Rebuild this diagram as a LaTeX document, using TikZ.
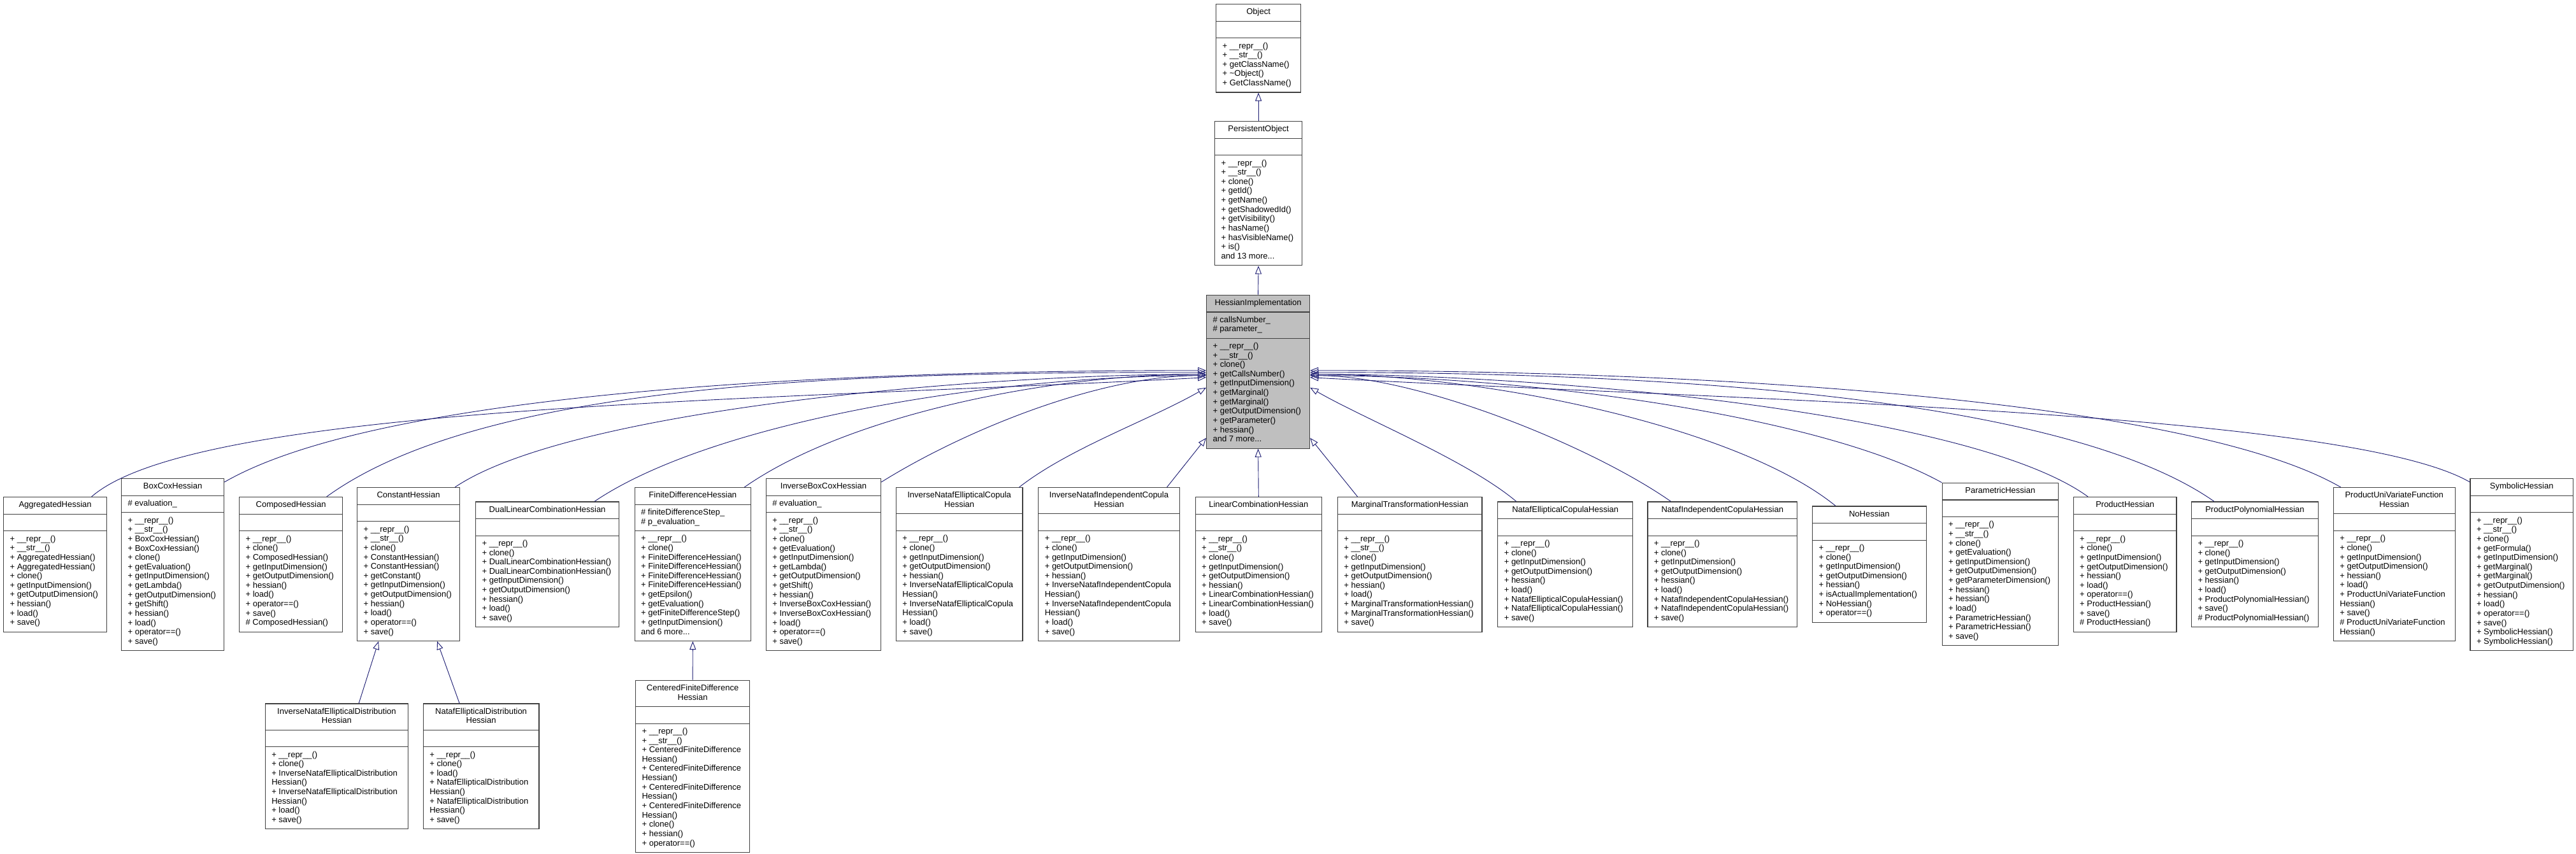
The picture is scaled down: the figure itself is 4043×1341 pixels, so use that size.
\documentclass[tikz,border=0pt]{standalone}
\usepackage{fontspec}
\setmainfont{Liberation Sans}
\usetikzlibrary{shapes.multipart,arrows.meta}
\definecolor{edgeblue}{RGB}{25,25,112}
\definecolor{boxline}{RGB}{64,64,64}
\definecolor{hifill}{RGB}{191,191,191}
\newcommand{\hfont}{\fontsize{13}{14.63}\selectfont}
\newcommand{\htitle}[1]{{\hfont\begin{tabular}{@{}c@{}}#1\end{tabular}}}
\newcommand{\hrows}[1]{{\hfont\begin{tabular}{@{}l@{}}#1\end{tabular}}}
\newcommand{\hnone}{{\hfont\strut}}

\begin{document}
\begin{tikzpicture}[x=1pt,y=1pt]
    \tikzstyle{hclass}=[rectangle split,rectangle split parts=3,draw=boxline,line width=1.2pt,fill=white,anchor=north west,minimum width=#1pt,inner xsep=10pt,inner ysep=5.4pt,rectangle split part align={center,left,left},font=\hfont]
    \tikzstyle{inh}=[draw=edgeblue,line width=0.9pt,-{Triangle[open,length=13pt,width=10pt]}]
    \useasboundingbox (0,0) rectangle (4043,-1341);

    % base classes
    \node[hclass=133] (obj) at (1908,-6) {\htitle{Object}\nodepart{second}\hnone\nodepart{third}\hrows{+ \_\_repr\_\_()\\+ \_\_str\_\_()\\+ getClassName()\\+ \textasciitilde Object()\\+ GetClassName()}};
    \node[hclass=137] (pobj) at (1906,-190) {\htitle{PersistentObject}\nodepart{second}\hnone\nodepart{third}\hrows{+ \_\_repr\_\_()\\+ \_\_str\_\_()\\+ clone()\\+ getId()\\+ getName()\\+ getShadowedId()\\+ getVisibility()\\+ hasName()\\+ hasVisibleName()\\+ is()\\and 13 more...}};
    \node[hclass=162,fill=hifill] (hi) at (1893,-462.7) {\htitle{HessianImplementation}\nodepart{second}\hrows{\# callsNumber\_\\\# parameter\_}\nodepart{third}\hrows{+ \_\_repr\_\_()\\+ \_\_str\_\_()\\+ clone()\\+ getCallsNumber()\\+ getInputDimension()\\+ getMarginal()\\+ getMarginal()\\+ getOutputDimension()\\+ getParameter()\\+ hessian()\\and 7 more...}};

    % derived classes, left to right
    \node[hclass=162] (agg) at (5,-780) {\htitle{AggregatedHessian}\nodepart{second}\hnone\nodepart{third}\hrows{+ \_\_repr\_\_()\\+ \_\_str\_\_()\\+ AggregatedHessian()\\+ AggregatedHessian()\\+ clone()\\+ getInputDimension()\\+ getOutputDimension()\\+ hessian()\\+ load()\\+ save()}};
    \node[hclass=161] (boxcox) at (190,-751) {\htitle{BoxCoxHessian}\nodepart{second}\hrows{\# evaluation\_}\nodepart{third}\hrows{+ \_\_repr\_\_()\\+ \_\_str\_\_()\\+ BoxCoxHessian()\\+ BoxCoxHessian()\\+ clone()\\+ getEvaluation()\\+ getInputDimension()\\+ getLambda()\\+ getOutputDimension()\\+ getShift()\\+ hessian()\\+ load()\\+ operator==()\\+ save()}};
    \node[hclass=162] (comp) at (375,-780) {\htitle{ComposedHessian}\nodepart{second}\hnone\nodepart{third}\hrows{+ \_\_repr\_\_()\\+ clone()\\+ ComposedHessian()\\+ getInputDimension()\\+ getOutputDimension()\\+ hessian()\\+ load()\\+ operator==()\\+ save()\\\# ComposedHessian()}};
    \node[hclass=161] (const) at (560,-765) {\htitle{ConstantHessian}\nodepart{second}\hnone\nodepart{third}\hrows{+ \_\_repr\_\_()\\+ \_\_str\_\_()\\+ clone()\\+ ConstantHessian()\\+ ConstantHessian()\\+ getConstant()\\+ getInputDimension()\\+ getOutputDimension()\\+ hessian()\\+ load()\\+ operator==()\\+ save()}};
    \node[hclass=225] (dlc) at (746,-787.3) {\htitle{DualLinearCombinationHessian}\nodepart{second}\hnone\nodepart{third}\hrows{+ \_\_repr\_\_()\\+ clone()\\+ DualLinearCombinationHessian()\\+ DualLinearCombinationHessian()\\+ getInputDimension()\\+ getOutputDimension()\\+ hessian()\\+ load()\\+ save()}};
    \node[hclass=182.5] (fd) at (995.5,-765) {\htitle{FiniteDifferenceHessian}\nodepart{second}\hrows{\# finiteDifferenceStep\_\\\# p\_evaluation\_}\nodepart{third}\hrows{+ \_\_repr\_\_()\\+ clone()\\+ FiniteDifferenceHessian()\\+ FiniteDifferenceHessian()\\+ FiniteDifferenceHessian()\\+ FiniteDifferenceHessian()\\+ getEpsilon()\\+ getEvaluation()\\+ getFiniteDifferenceStep()\\+ getInputDimension()\\and 6 more...}};
    \node[hclass=180.3] (ibc) at (1201.7,-751) {\htitle{InverseBoxCoxHessian}\nodepart{second}\hrows{\# evaluation\_}\nodepart{third}\hrows{+ \_\_repr\_\_()\\+ \_\_str\_\_()\\+ clone()\\+ getEvaluation()\\+ getInputDimension()\\+ getLambda()\\+ getOutputDimension()\\+ getShift()\\+ hessian()\\+ InverseBoxCoxHessian()\\+ InverseBoxCoxHessian()\\+ load()\\+ operator==()\\+ save()}};
    \node[hclass=198.5] (inec) at (1405.8,-765) {\htitle{InverseNatafEllipticalCopula\\Hessian}\nodepart{second}\hnone\nodepart{third}\hrows{+ \_\_repr\_\_()\\+ clone()\\+ getInputDimension()\\+ getOutputDimension()\\+ hessian()\\+ InverseNatafEllipticalCopula\\Hessian()\\+ InverseNatafEllipticalCopula\\Hessian()\\+ load()\\+ save()}};
    \node[hclass=221.4] (inic) at (1629.2,-765) {\htitle{InverseNatafIndependentCopula\\Hessian}\nodepart{second}\hnone\nodepart{third}\hrows{+ \_\_repr\_\_()\\+ clone()\\+ getInputDimension()\\+ getOutputDimension()\\+ hessian()\\+ InverseNatafIndependentCopula\\Hessian()\\+ InverseNatafIndependentCopula\\Hessian()\\+ load()\\+ save()}};
    \node[hclass=198.4] (lc) at (1875.5,-780) {\htitle{LinearCombinationHessian}\nodepart{second}\hnone\nodepart{third}\hrows{+ \_\_repr\_\_()\\+ \_\_str\_\_()\\+ clone()\\+ getInputDimension()\\+ getOutputDimension()\\+ hessian()\\+ LinearCombinationHessian()\\+ LinearCombinationHessian()\\+ load()\\+ save()}};
    \node[hclass=226.5] (mt) at (2098.8,-780) {\htitle{MarginalTransformationHessian}\nodepart{second}\hnone\nodepart{third}\hrows{+ \_\_repr\_\_()\\+ \_\_str\_\_()\\+ clone()\\+ getInputDimension()\\+ getOutputDimension()\\+ hessian()\\+ load()\\+ MarginalTransformationHessian()\\+ MarginalTransformationHessian()\\+ save()}};
    \node[hclass=211.8] (nec) at (2350.2,-787.3) {\htitle{NatafEllipticalCopulaHessian}\nodepart{second}\hnone\nodepart{third}\hrows{+ \_\_repr\_\_()\\+ clone()\\+ getInputDimension()\\+ getOutputDimension()\\+ hessian()\\+ load()\\+ NatafEllipticalCopulaHessian()\\+ NatafEllipticalCopulaHessian()\\+ save()}};
    \node[hclass=234.7] (nic) at (2585.3,-787.3) {\htitle{NatafIndependentCopulaHessian}\nodepart{second}\hnone\nodepart{third}\hrows{+ \_\_repr\_\_()\\+ clone()\\+ getInputDimension()\\+ getOutputDimension()\\+ hessian()\\+ load()\\+ NatafIndependentCopulaHessian()\\+ NatafIndependentCopulaHessian()\\+ save()}};
    \node[hclass=178.5] (noh) at (2844,-794.3) {\htitle{NoHessian}\nodepart{second}\hnone\nodepart{third}\hrows{+ \_\_repr\_\_()\\+ clone()\\+ getInputDimension()\\+ getOutputDimension()\\+ hessian()\\+ isActualImplementation()\\+ NoHessian()\\+ operator==()}};
    \node[hclass=182.5] (par) at (3047.5,-757.7) {\htitle{ParametricHessian}\nodepart{second}\hnone\nodepart{third}\hrows{+ \_\_repr\_\_()\\+ \_\_str\_\_()\\+ clone()\\+ getEvaluation()\\+ getInputDimension()\\+ getOutputDimension()\\+ getParameterDimension()\\+ hessian()\\+ hessian()\\+ load()\\+ ParametricHessian()\\+ ParametricHessian()\\+ save()}};
    \node[hclass=161.8] (prod) at (3253.6,-780) {\htitle{ProductHessian}\nodepart{second}\hnone\nodepart{third}\hrows{+ \_\_repr\_\_()\\+ clone()\\+ getInputDimension()\\+ getOutputDimension()\\+ hessian()\\+ load()\\+ operator==()\\+ ProductHessian()\\+ save()\\\# ProductHessian()}};
    \node[hclass=198.9] (ppoly) at (3438.9,-787.3) {\htitle{ProductPolynomialHessian}\nodepart{second}\hnone\nodepart{third}\hrows{+ \_\_repr\_\_()\\+ clone()\\+ getInputDimension()\\+ getOutputDimension()\\+ hessian()\\+ load()\\+ ProductPolynomialHessian()\\+ save()\\\# ProductPolynomialHessian()}};
    \node[hclass=190.8] (puvf) at (3661.7,-765) {\htitle{ProductUniVariateFunction\\Hessian}\nodepart{second}\hnone\nodepart{third}\hrows{+ \_\_repr\_\_()\\+ clone()\\+ getInputDimension()\\+ getOutputDimension()\\+ hessian()\\+ load()\\+ ProductUniVariateFunction\\Hessian()\\+ save()\\\# ProductUniVariateFunction\\Hessian()}};
    \node[hclass=161.3] (sym) at (3876.4,-751) {\htitle{SymbolicHessian}\nodepart{second}\hnone\nodepart{third}\hrows{+ \_\_repr\_\_()\\+ \_\_str\_\_()\\+ clone()\\+ getFormula()\\+ getInputDimension()\\+ getMarginal()\\+ getMarginal()\\+ getOutputDimension()\\+ hessian()\\+ load()\\+ operator==()\\+ save()\\+ SymbolicHessian()\\+ SymbolicHessian()}};

    % third level
    \node[hclass=224.3] (inedh) at (415.7,-1104.3) {\htitle{InverseNatafEllipticalDistribution\\Hessian}\nodepart{second}\hnone\nodepart{third}\hrows{+ \_\_repr\_\_()\\+ clone()\\+ InverseNatafEllipticalDistribution\\Hessian()\\+ InverseNatafEllipticalDistribution\\Hessian()\\+ load()\\+ save()}};
    \node[hclass=181.6] (nedh) at (663.7,-1104.3) {\htitle{NatafEllipticalDistribution\\Hessian}\nodepart{second}\hnone\nodepart{third}\hrows{+ \_\_repr\_\_()\\+ clone()\\+ load()\\+ NatafEllipticalDistribution\\Hessian()\\+ NatafEllipticalDistribution\\Hessian()\\+ save()}};
    \node[hclass=179] (cfd) at (997,-1067.7) {\htitle{CenteredFiniteDifference\\Hessian}\nodepart{second}\hnone\nodepart{third}\hrows{+ \_\_repr\_\_()\\+ \_\_str\_\_()\\+ CenteredFiniteDifference\\Hessian()\\+ CenteredFiniteDifference\\Hessian()\\+ CenteredFiniteDifference\\Hessian()\\+ CenteredFiniteDifference\\Hessian()\\+ clone()\\+ hessian()\\+ operator==()}};

    % inheritance
    \draw[inh] (pobj.north) -- (obj.south);
    \draw[inh] (hi.north) -- (pobj.south);
    \draw[inh] (lc.north) -- (hi.south);
    \draw[inh] ([xshift=57pt]agg.north) .. controls +(41:220) and +(183:700) .. ([yshift=-130pt]hi.north west);
    \draw[inh] ([yshift=-6pt]boxcox.north east) .. controls +(30:280) and +(180:600) .. ([yshift=-119pt]hi.north west);
    \draw[inh] ([xshift=56pt]comp.north) .. controls +(36:320) and +(180:500) .. ([yshift=-122pt]hi.north west);
    \draw[inh] ([xshift=73pt]const.north) .. controls +(34:220) and +(180:350) .. ([yshift=-125pt]hi.north west);
    \draw[inh] ([xshift=74pt]dlc.north) .. controls +(34:230) and +(180:320) .. ([yshift=-127pt]hi.north west);
    \draw[inh] ([xshift=81pt]fd.north) .. controls +(35:200) and +(180:240) .. ([yshift=-125pt]hi.north west);
    \draw[inh] ([yshift=-6pt]ibc.north east) .. controls +(32:150) and +(180:170) .. ([yshift=-127pt]hi.north west);
    \draw[inh] ([xshift=94pt]inec.north) .. controls +(38:100) and +(210:100) .. ([yshift=-146pt]hi.north west);
    \draw[inh] ([xshift=91pt]inic.north) -- ([yshift=-225pt]hi.north west);
    \draw[inh] ([xshift=-82pt]mt.north) -- ([yshift=-225pt]hi.north east);
    \draw[inh] ([xshift=-77pt]nec.north) .. controls +(140:100) and +(-30:100) .. ([yshift=-146pt]hi.north east);
    \draw[inh] ([xshift=-81pt]nic.north) .. controls +(145:150) and +(0:170) .. ([yshift=-127pt]hi.north east);
    \draw[inh] ([xshift=-53pt]noh.north) .. controls +(141:200) and +(0:270) .. ([yshift=-125pt]hi.north east);
    \draw[inh] (par.north west) .. controls +(151:220) and +(0:330) .. ([yshift=-127pt]hi.north east);
    \draw[inh] ([xshift=-58pt]prod.north) .. controls +(144:230) and +(0:350) .. ([yshift=-125pt]hi.north east);
    \draw[inh] ([xshift=-64pt]ppoly.north) .. controls +(145:300) and +(0:500) .. ([yshift=-122pt]hi.north east);
    \draw[inh] ([xshift=-84pt]puvf.north) .. controls +(150:280) and +(0:600) .. ([yshift=-119pt]hi.north east);
    \draw[inh] ([yshift=-6pt]sym.north west) .. controls +(150:220) and +(-3:700) .. ([yshift=-130pt]hi.north east);
    \draw[inh] ([xshift=-78pt]inedh.north east) -- ([xshift=-47pt]const.south);
    \draw[inh] ([xshift=-34pt]nedh.north) -- ([xshift=45pt]const.south);
    \draw[inh] (cfd.north) -- (fd.south);
\end{tikzpicture}
\end{document}
